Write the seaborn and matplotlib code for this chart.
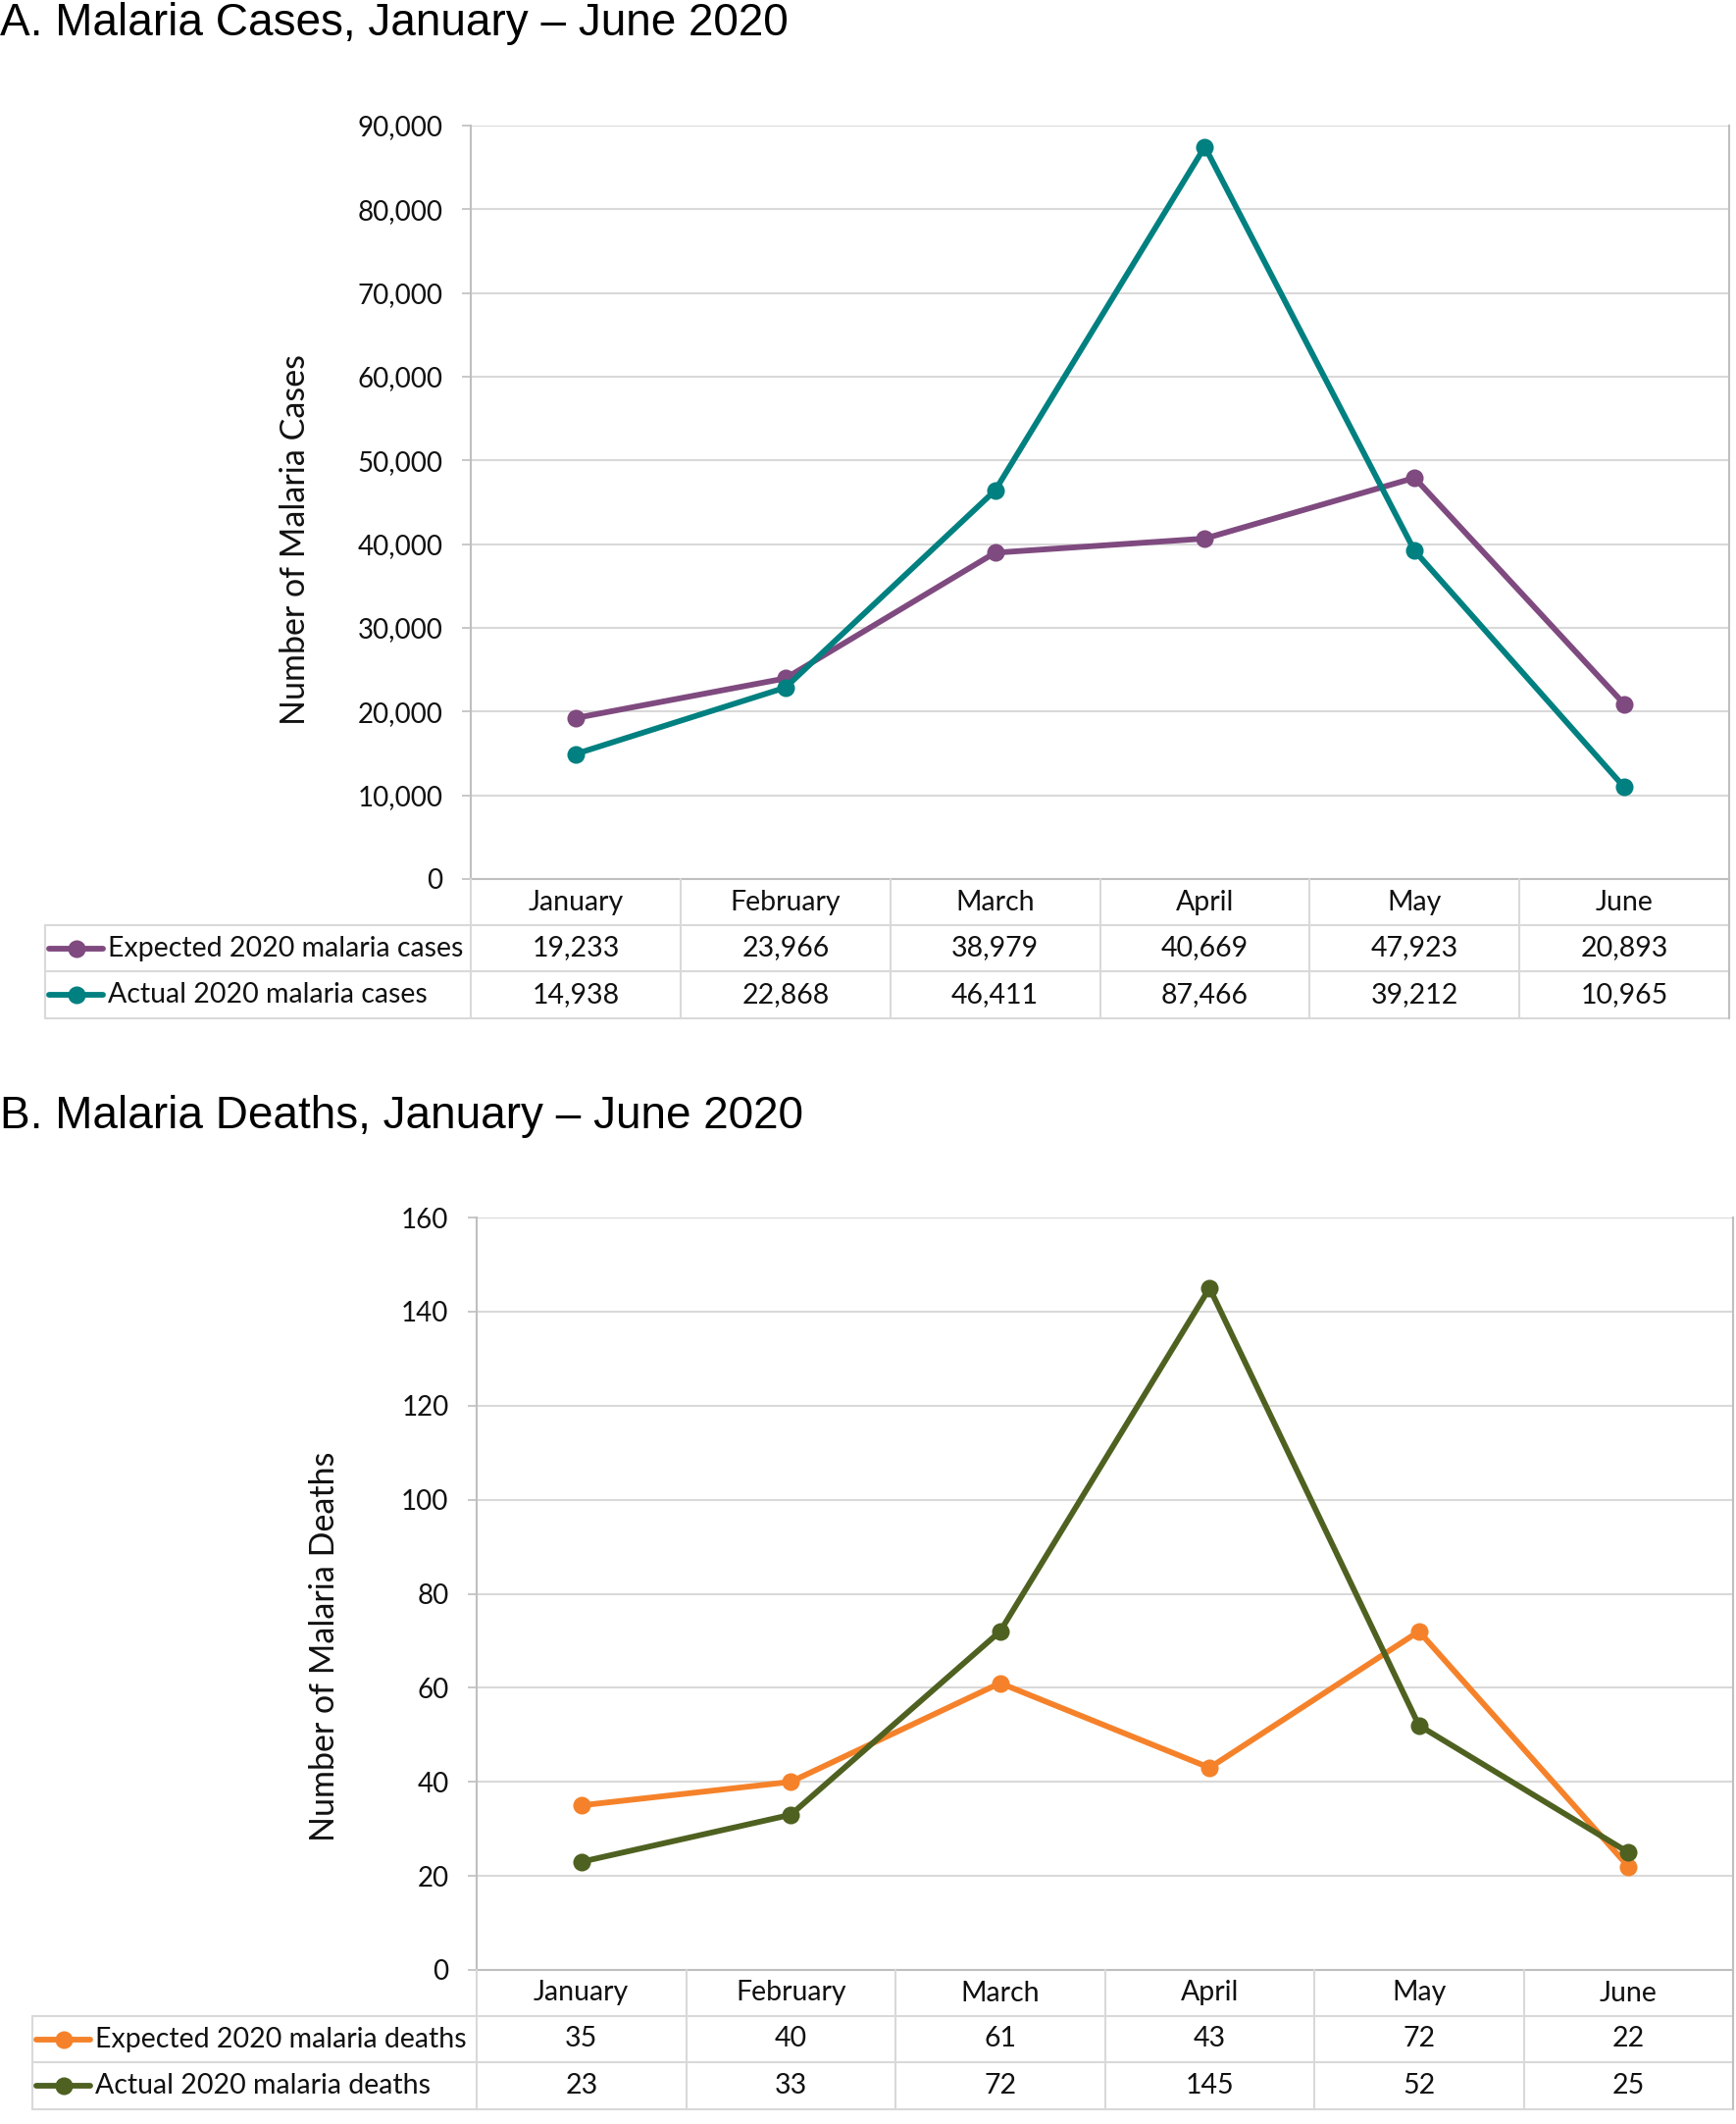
import matplotlib
matplotlib.use("Agg")
import matplotlib.pyplot as plt
import matplotlib.transforms as mtransforms
from matplotlib.lines import Line2D
from matplotlib.ticker import MultipleLocator, FuncFormatter
import seaborn as sns
import pandas as pd

months = ["January", "February", "March", "April", "May", "June"]
expected_cases = [19233, 23966, 38979, 40669, 47923, 20893]
actual_cases = [14938, 22868, 46411, 87466, 39212, 10965]
expected_deaths = [35, 40, 61, 43, 72, 22]
actual_deaths = [23, 33, 72, 145, 52, 25]

W, H = 1770, 2165
sns.set_theme(style="white")
plt.rcParams['font.family'] = ['Lato', 'DejaVu Sans']

GRID = '#d9d9d9'
SPINE = '#bfbfbf'
TXT = '#111111'

fig = plt.figure(figsize=(W / 100, H / 100), dpi=100)


def fx(px):
    return px / W


def fy(py):
    return 1 - py / H


def panel(title, title_base, box, ylab, lab_xy, names, series, colors, ymax, ystep, tab_left, rows):
    left, top, right, bottom = box
    ax = fig.add_axes([fx(left), fy(bottom), fx(right - left), (bottom - top) / H])

    df = pd.DataFrame({
        'month': months * 2,
        'value': series[0] + series[1],
        'series': [names[0]] * 6 + [names[1]] * 6,
    })
    sns.lineplot(data=df, x='month', y='value', hue='series', palette=colors,
                 marker='o', markersize=13, markeredgewidth=0, linewidth=4.2,
                 sort=False, legend=False, ax=ax)

    ax.set_xlim(-0.5, 5.5)
    ax.set_ylim(0, ymax)
    ax.yaxis.set_major_locator(MultipleLocator(ystep))
    ax.yaxis.set_major_formatter(FuncFormatter(lambda v, p: f'{v:,.0f}'))
    ax.set_xticks([])
    ax.set_xlabel('')
    ax.grid(axis='y', color=GRID, linewidth=1.5)
    ax.set_axisbelow(True)
    for s in ax.spines.values():
        s.set_color(SPINE)
        s.set_linewidth(1.5)
    ax.spines['top'].set_visible(False)
    ax.tick_params(axis='y', left=True, length=6.5, width=1.2, color=SPINE,
                   labelsize=20, labelcolor=TXT, pad=14)
    ax.set_ylabel(ylab, fontsize=24.5, color=TXT)
    ax.yaxis.set_label_coords(fx(lab_xy[0]), fy(lab_xy[1]), transform=fig.transFigure)

    fig.text(0, fy(title_base), title, family=['Liberation Sans', 'DejaVu Sans'],
             fontsize=33, color='black', va='baseline', ha='left')

    # data table under the plot, columns follow the category axis
    tr = mtransforms.blended_transform_factory(ax.transData, fig.transFigure)
    r0, r1, r2, r3 = rows
    for i in range(7):
        fig.add_artist(Line2D([i - 0.5, i - 0.5], [fy(r0), fy(r3)], transform=tr,
                              color=GRID, linewidth=1.5))
    for r in (r1, r2, r3):
        fig.add_artist(Line2D([fx(tab_left), fx(right)], [fy(r), fy(r)],
                              transform=fig.transFigure, color=GRID, linewidth=1.5))
    fig.add_artist(Line2D([fx(tab_left), fx(tab_left)], [fy(r1), fy(r3)],
                          transform=fig.transFigure, color=GRID, linewidth=1.5))
    fig.add_artist(Line2D([fx(right), fx(right)], [fy(r0), fy(r3)],
                          transform=fig.transFigure, color=SPINE, linewidth=1.5))

    for i, m in enumerate(months):
        fig.text(i, fy((r0 + r1) / 2), m, transform=tr, ha='center', va='center',
                 fontsize=20.5, color=TXT)
        for vals, (ra, rb) in zip(series, [(r1, r2), (r2, r3)]):
            fig.text(i, fy((ra + rb) / 2), f'{vals[i]:,}', transform=tr, ha='center',
                     va='center', fontsize=20.5, color=TXT)

    for name, col, (ra, rb) in zip(names, colors, [(r1, r2), (r2, r3)]):
        yc = fy((ra + rb) / 2)
        fig.add_artist(Line2D([fx(tab_left + 4), fx(tab_left + 59)], [yc, yc],
                              transform=fig.transFigure, color=col, linewidth=4.2))
        fig.add_artist(Line2D([fx(tab_left + 32)], [yc], transform=fig.transFigure,
                              color=col, marker='o', markersize=13, markeredgewidth=0))
        fig.text(fx(tab_left + 64), yc, name, ha='left', va='center', fontsize=20.5, color=TXT)
    return ax


panel("A. Malaria Cases, January \u2013 June 2020", 36,
      (480, 128, 1763, 896), "Number of Malaria Cases", (317, 550),
      ["Expected 2020 malaria cases", "Actual 2020 malaria cases"],
      [expected_cases, actual_cases], ['#7f4a7f', '#008080'],
      90000, 10000, 46, (896, 943, 990, 1038))

panel("B. Malaria Deaths, January \u2013 June 2020", 1150,
      (486, 1241, 1767, 2008), "Number of Malaria Deaths", (347, 1678),
      ["Expected 2020 malaria deaths", "Actual 2020 malaria deaths"],
      [expected_deaths, actual_deaths], ['#f5822a', '#4f6120'],
      160, 20, 33, (2008, 2055, 2102, 2150))

fig.savefig('out.png', dpi=100, facecolor='white')
